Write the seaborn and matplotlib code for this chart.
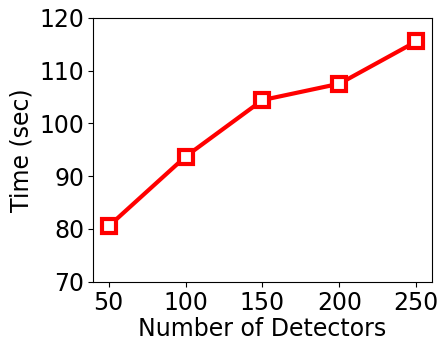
import pandas as pd
import matplotlib
matplotlib.use("Agg")
import matplotlib.pyplot as plt
import seaborn as sb

detectors = [50, 100, 150, 200, 250]
time_sec = [80.5, 93.7, 104.4, 107.5, 115.5]

df = pd.DataFrame({"Number of Detectors": detectors, "Time (sec)": time_sec})

fig = plt.figure(figsize=(4.4, 3.41), dpi=100)
ax = fig.add_axes([0.212, 0.174, 0.769, 0.774])
sb.lineplot(data=df, x="Number of Detectors", y="Time (sec)", ax=ax,
            color="red", linewidth=3, marker="s", markersize=10,
            markerfacecolor="white", markeredgecolor="red", markeredgewidth=3)

ax.set_xlim(40, 260)
ax.set_ylim(70, 120)
ax.set_xticks(detectors)
ax.set_yticks([70, 80, 90, 100, 110, 120])
ax.tick_params(labelsize=17, pad=3)
ax.set_xlabel("Number of Detectors", fontsize=17, labelpad=2)
ax.set_ylabel("Time (sec)", fontsize=17)

plt.savefig("out.png", dpi=100)
